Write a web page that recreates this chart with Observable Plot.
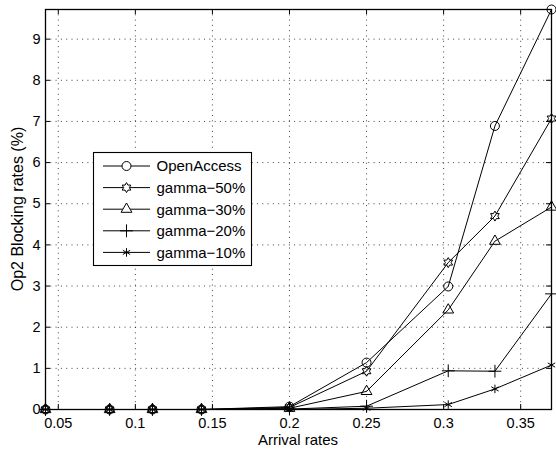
<!DOCTYPE html>
<html>
<head>
<meta charset="utf-8">
<script src="https://cdn.jsdelivr.net/npm/d3@7"></script>
<script src="https://cdn.jsdelivr.net/npm/@observablehq/plot@0.6"></script>
<style>
  html, body { margin: 0; padding: 0; background: #fff; }
  #chart { font-family: "Liberation Sans", Arial, sans-serif; }
</style>
</head>
<body>
<div id="chart"></div>
<script>
// ---- data ----
const arrivalRates = [0.0417, 0.0833, 0.1111, 0.1429, 0.2, 0.25, 0.303, 0.3333, 0.37];
const openAccess = [0, 0, 0, 0, 0.07, 1.14, 2.99, 6.89, 9.72];
const gamma50    = [0, 0, 0, 0, 0.05, 0.93, 3.57, 4.70, 7.07];
const gamma30    = [0, 0, 0, 0, 0.03, 0.44, 2.42, 4.09, 4.92];
const gamma20    = [0, 0, 0, 0, 0.01, 0.08, 0.94, 0.93, 2.81];
const gamma10    = [0, 0, 0, 0, 0.00, 0.03, 0.12, 0.50, 1.08];
const seriesNames = ["OpenAccess", "gamma\u221250%", "gamma\u221230%", "gamma\u221220%", "gamma\u221210%"];
const xTicks = [0.05, 0.1, 0.15, 0.2, 0.25, 0.3, 0.35];
const xTickLabels = ["0.05", "0.1", "0.15", "0.2", "0.25", "0.3", "0.35"];
const yTicks = [0, 1, 2, 3, 4, 5, 6, 7, 8, 9];
const xLabel = "Arrival rates";
const yLabel = "Op2 Blocking rates (%)";

// custom hexagram (star of David) symbol
const hexagram = {
  draw(ctx, size) {
    const R = Math.sqrt(size / Math.PI);
    const r = R / Math.sqrt(3);
    for (let i = 0; i < 12; i++) {
      const a = -Math.PI / 2 + i * Math.PI / 6;
      const rad = i % 2 ? r : R;
      const px = rad * Math.cos(a), py = rad * Math.sin(a);
      if (i === 0) ctx.moveTo(px, py); else ctx.lineTo(px, py);
    }
    ctx.closePath();
  }
};

const allSeries = [openAccess, gamma50, gamma30, gamma20, gamma10];
const symbols = ["circle", hexagram, "triangle", "plus", "asterisk"];
const radii = [4.5, 5, 4, 4.2, 4];

const rows = [];
allSeries.forEach((vals, si) => vals.forEach((v, i) => rows.push({series: seriesNames[si], si, x: arrivalRates[i], y: v})));

const W = 556, H = 452, mL = 45, mT = 9, mR = 5, mB = 43;
const fontSize = 14.5;

const marks = [
  Plot.gridX(xTicks, {stroke: "#000", strokeOpacity: 0.75, strokeDasharray: "1,4.3"}),
  Plot.gridY(yTicks.filter(d => d > 0), {stroke: "#000", strokeOpacity: 0.75, strokeDasharray: "1,4.3"}),
  // inward ticks (bottom, top, left, right)
  Plot.tickX(xTicks, {x: d => d, stroke: "#000", insetTop: H - mT - mB - 5}),
  Plot.tickX(xTicks, {x: d => d, stroke: "#000", insetBottom: H - mT - mB - 5}),
  Plot.tickY(yTicks, {y: d => d, stroke: "#000", insetRight: W - mL - mR - 5}),
  Plot.tickY(yTicks, {y: d => d, stroke: "#000", insetLeft: W - mL - mR - 5}),
  Plot.axisX(xTicks, {tickSize: 0, tickPadding: 8, tickFormat: (d, i) => xTickLabels[i], fontSize, label: null}),
  Plot.axisY(yTicks, {tickSize: 0, tickPadding: 5, fontSize, label: null}),
  Plot.line(rows, {x: "x", y: "y", z: "series", stroke: "#000", strokeWidth: 1})
];
allSeries.forEach((vals, si) => {
  marks.push(Plot.dot(rows.filter(r => r.si === si), {
    x: "x", y: "y", symbol: () => symbols[si], r: radii[si],
    stroke: "#000", fill: "none", strokeWidth: 1
  }));
});
marks.push(Plot.frame({stroke: "#000", strokeWidth: 1.3}));

const svg = Plot.plot({
  width: W, height: H,
  marginLeft: mL, marginTop: mT, marginRight: mR, marginBottom: mB,
  style: {fontFamily: '"Liberation Sans", Arial, sans-serif', fontSize: fontSize + "px", color: "#000", background: "#fff"},
  x: {domain: [0.0417, 0.37]},
  y: {domain: [0, 9.72]},
  marks
});

const root = d3.select(svg);
// axis titles
root.append("text")
  .attr("x", mL + (W - mL - mR) / 2).attr("y", 445)
  .attr("text-anchor", "middle").attr("font-size", 15).attr("fill", "#000")
  .text(xLabel);
root.append("text")
  .attr("transform", `translate(22.5,${mT + (H - mT - mB) / 2}) rotate(-90)`)
  .attr("text-anchor", "middle").attr("font-size", 16).attr("fill", "#000")
  .text(yLabel);

// legend (MATLAB style box)
const lg = root.append("g").attr("transform", "translate(93.5,152.5)");
lg.append("rect").attr("width", 158).attr("height", 113).attr("fill", "#fff").attr("stroke", "#000").attr("stroke-width", 1.1);
const symTypes = [d3.symbolCircle, hexagram, d3.symbolTriangle, d3.symbolPlus, d3.symbolAsterisk];
seriesNames.forEach((name, i) => {
  const cy = 13.5 + i * 21.6;
  const g = lg.append("g").attr("transform", `translate(0,${cy})`);
  g.append("line").attr("x1", 9.5).attr("x2", 56.5).attr("y1", 0).attr("y2", 0).attr("stroke", "#000");
  g.append("path").attr("transform", "translate(33,0)")
    .attr("d", d3.symbol(symTypes[i], Math.PI * radii[i] * radii[i])())
    .attr("fill", "#fff").attr("stroke", "#000");
  g.append("text").attr("x", 63).attr("y", 0).attr("dy", "0.36em")
    .attr("text-anchor", "start")
    .attr("font-size", 15).attr("fill", "#000").text(name);
});

document.getElementById("chart").appendChild(svg);
</script>
</body>
</html>
